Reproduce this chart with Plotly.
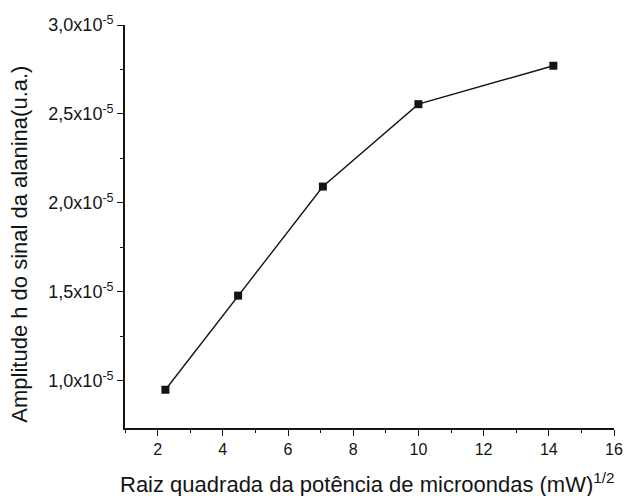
import plotly.graph_objects as go

# Square root of microwave power (mW)^1/2 and alanine signal amplitude h (a.u.)
raiz_potencia = [2.24, 4.47, 7.07, 10.0, 14.14]
amplitude_h = [0.95e-5, 1.479e-5, 2.092e-5, 2.555e-5, 2.771e-5]

x_ticks = [2, 4, 6, 8, 10, 12, 14, 16]
y_tick_vals = [1.0e-5, 1.5e-5, 2.0e-5, 2.5e-5, 3.0e-5]
y_tick_text = ["1,0x10<sup>-5</sup>", "1,5x10<sup>-5</sup>", "2,0x10<sup>-5</sup>",
               "2,5x10<sup>-5</sup>", "3,0x10<sup>-5</sup>"]

x_title = "Raiz quadrada da potência de microondas (mW)<sup>1/2</sup>"
y_title = "Amplitude h do sinal da alanina(u.a.)"

ink = "#141414"
font_family = "Liberation Sans, Arial, sans-serif"

fig = go.Figure(
    go.Scatter(
        x=raiz_potencia,
        y=amplitude_h,
        mode="lines+markers",
        line=dict(color=ink, width=1.4),
        marker=dict(symbol="square", size=8, color=ink),
        showlegend=False,
    )
)

fig.update_layout(
    width=635,
    height=496,
    margin=dict(l=125, r=13, t=25, b=68),
    paper_bgcolor="white",
    plot_bgcolor="white",
    font=dict(family=font_family, color=ink, size=16),
    xaxis=dict(
        range=[1, 16],
        tickvals=x_ticks,
        ticks="outside",
        ticklen=6,
        tickwidth=1.3,
        tickcolor=ink,
        minor=dict(dtick=1, tick0=1, ticks="outside", ticklen=3, tickcolor=ink, tickwidth=1.2),
        showline=True,
        linecolor=ink,
        linewidth=1.6,
        showgrid=False,
        zeroline=False,
        tickfont=dict(size=16),
    ),
    yaxis=dict(
        range=[0.735e-5, 3.0e-5],
        tickvals=y_tick_vals,
        ticktext=y_tick_text,
        ticks="outside",
        ticklen=6,
        tickwidth=1.3,
        tickcolor=ink,
        minor=dict(tickvals=[1.25e-5, 1.75e-5, 2.25e-5, 2.75e-5], ticks="outside",
                   ticklen=3, tickcolor=ink, tickwidth=1.2),
        showline=True,
        linecolor=ink,
        linewidth=1.6,
        showgrid=False,
        zeroline=False,
        tickfont=dict(size=18),
    ),
    annotations=[
        dict(
            text=x_title,
            xref="paper", yref="paper",
            x=0.495, y=-0.137,
            xanchor="center", yanchor="middle",
            showarrow=False,
            font=dict(size=22),
        ),
        dict(
            text=y_title,
            xref="paper", yref="paper",
            x=-0.215, y=0.457,
            xanchor="center", yanchor="middle",
            textangle=-90,
            showarrow=False,
            font=dict(size=22),
        ),
    ],
)

fig.write_html("out.html")
